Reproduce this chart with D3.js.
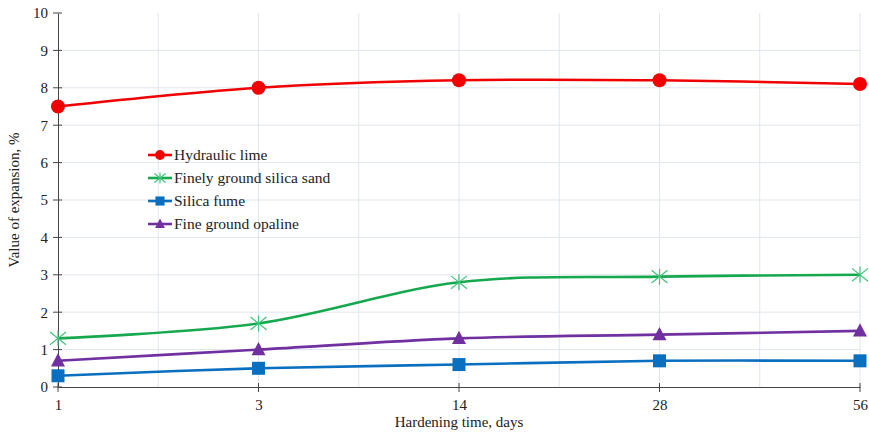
<!DOCTYPE html>
<html>
<head>
<meta charset="utf-8">
<script src="https://cdn.jsdelivr.net/npm/d3@7"></script>
<style>
  html, body { margin: 0; padding: 0; background: #fff; }
  svg { display: block; font-family: "Liberation Serif", "Times New Roman", serif; }
</style>
</head>
<body>
<svg id="chart" width="869" height="432"></svg>
<script>
// Hardening time categories (days)
const days = ["1", "3", "14", "28", "56"];
// Expansion values, %
const hydraulicLime = [7.5, 8.0, 8.2, 8.2, 8.1];
const silicaSand = [1.3, 1.7, 2.8, 2.95, 3.0];
const silicaFume = [0.3, 0.5, 0.6, 0.7, 0.7];
const opaline = [0.7, 1.0, 1.3, 1.4, 1.5];
const yTicks = [0, 1, 2, 3, 4, 5, 6, 7, 8, 9, 10];

const series = [
  { name: "Hydraulic lime", values: hydraulicLime, color: "#f00000", marker: "circle" },
  { name: "Finely ground silica sand", values: silicaSand, color: "#16a84e", marker: "star" },
  { name: "Silica fume", values: silicaFume, color: "#0b6fbf", marker: "square" },
  { name: "Fine ground opaline", values: opaline, color: "#7030a0", marker: "triangle" }
];

const svg = d3.select("#chart");
const margin = { left: 58, right: 9, top: 13, bottom: 45 };
const W = 869, H = 432;

const x = d3.scalePoint().domain(days).range([margin.left, W - margin.right]);
const y = d3.scaleLinear().domain([0, 10]).range([H - margin.bottom, margin.top]);

// Grid
const grid = svg.append("g").attr("stroke", "#dfe6ee").attr("stroke-width", 1);
yTicks.filter(d => d > 0 && d < 10).forEach(t => {
  grid.append("line")
    .attr("x1", x.range()[0]).attr("x2", x.range()[1])
    .attr("y1", y(t)).attr("y2", y(t));
});
const step = x.step();
const vPositions = [];
days.forEach((d, i) => {
  if (i > 0) vPositions.push(x(d));
  if (i < days.length - 1) vPositions.push(x(d) + step / 2);
});
vPositions.forEach(px => {
  grid.append("line")
    .attr("x1", px).attr("x2", px)
    .attr("y1", y(10)).attr("y2", y(0));
});

// Axes
const yAxis = d3.axisLeft(y).tickValues(yTicks).tickSize(0).tickPadding(10);
const yG = svg.append("g").attr("transform", `translate(${margin.left},0)`).call(yAxis);
yG.select(".domain").attr("stroke", "#444").attr("stroke-width", 1);
yG.selectAll("text").attr("font-size", 15).attr("fill", "#222")
  .attr("font-family", "Liberation Serif, serif");
yTicks.forEach(t => {
  yG.append("line").attr("x1", -5).attr("x2", 4).attr("y1", y(t)).attr("y2", y(t))
    .attr("stroke", "#444");
});

const xAxis = d3.axisBottom(x).tickSize(0).tickPadding(12);
const xG = svg.append("g").attr("transform", `translate(0,${y(0)})`).call(xAxis);
xG.select(".domain").attr("stroke", "#444").attr("stroke-width", 1);
xG.selectAll("text").attr("font-size", 15).attr("fill", "#222")
  .attr("font-family", "Liberation Serif, serif");
days.forEach(d => {
  xG.append("line").attr("x1", x(d)).attr("x2", x(d)).attr("y1", -4).attr("y2", 5)
    .attr("stroke", "#444");
});

// Axis titles
svg.append("text")
  .attr("x", (x.range()[0] + x.range()[1]) / 2).attr("y", 427)
  .attr("text-anchor", "middle").attr("font-size", 15).attr("fill", "#222")
  .text("Hardening time, days");
svg.append("text")
  .attr("transform", `translate(19,${(y(0) + y(10)) / 2}) rotate(-90)`)
  .attr("text-anchor", "middle").attr("font-size", 15).attr("fill", "#222")
  .text("Value of expansion, %");

// Marker drawing
function drawMarker(g, type, cx, cy, color, scale) {
  const s = scale || 1;
  if (type === "circle") {
    g.append("circle").attr("cx", cx).attr("cy", cy).attr("r", 7 * s).attr("fill", color);
  } else if (type === "square") {
    const a = 13 * s;
    g.append("rect").attr("x", cx - a / 2).attr("y", cy - a / 2)
      .attr("width", a).attr("height", a).attr("fill", color);
  } else if (type === "triangle") {
    const a = 7 * s;
    g.append("path")
      .attr("d", `M${cx},${cy - a * 1.1}L${cx + a},${cy + a * 0.8}L${cx - a},${cy + a * 0.8}Z`)
      .attr("fill", color);
  } else if (type === "star") {
    const a = 8 * s;
    const sg = g.append("g").attr("stroke", "#3fc27a").attr("stroke-width", 1.2);
    sg.append("line").attr("x1", cx - a).attr("x2", cx + a).attr("y1", cy - a * 0.8).attr("y2", cy + a * 0.8);
    sg.append("line").attr("x1", cx - a).attr("x2", cx + a).attr("y1", cy + a * 0.8).attr("y2", cy - a * 0.8);
    sg.append("line").attr("x1", cx).attr("x2", cx).attr("y1", cy - a).attr("y2", cy + a);
  }
}

// Series lines
const line = d3.line()
  .x((d, i) => x(days[i]))
  .y(d => y(d))
  .curve(d3.curveCatmullRom.alpha(0));

series.forEach(s => {
  const g = svg.append("g");
  g.append("path").datum(s.values)
    .attr("d", line).attr("fill", "none")
    .attr("stroke", s.color).attr("stroke-width", 2.6);
  s.values.forEach((v, i) => drawMarker(g, s.marker, x(days[i]), y(v), s.color, 1));
});

// Legend
const legend = svg.append("g");
const legendRows = [155, 178, 201, 224];
series.forEach((s, i) => {
  const ly = legendRows[i];
  legend.append("line").attr("x1", 148).attr("x2", 172).attr("y1", ly).attr("y2", ly)
    .attr("stroke", s.color).attr("stroke-width", 2.6);
  drawMarker(legend, s.marker, 160, ly, s.color, 0.7);
  legend.append("text").attr("x", 174).attr("y", ly + 5)
    .attr("font-size", 15.5).attr("fill", "#222").text(s.name);
});
</script>
</body>
</html>
